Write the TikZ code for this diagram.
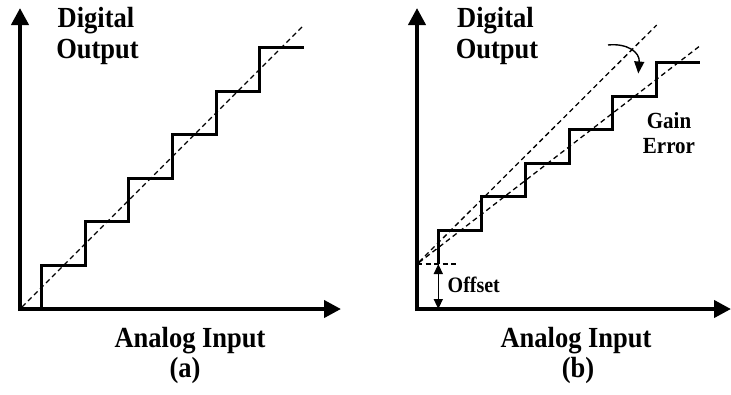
\documentclass[tikz,border=0pt]{standalone}
\usepackage{fontspec}
\usepackage{graphicx}
\setmainfont{Liberation Serif}
\usetikzlibrary{arrows.meta}
% bold serif labels, set slightly tall
\newcommand{\vstretch}[1]{\scalebox{1}[1.1]{#1}}
\begin{document}
\begin{tikzpicture}[x=1pt,y=-1pt,
  axis/.style={line width=4pt,line cap=butt,line join=miter,
    -{Triangle[length=17pt,width=17pt]}},
  stair/.style={line width=3pt,line join=miter},
  ideal/.style={line width=1.3pt,dash pattern=on 5pt off 3.5pt},
  lbl/.style={font=\fontsize{26.5}{31}\selectfont\bfseries,anchor=base,inner sep=0pt},
  small/.style={font=\fontsize{21}{25}\selectfont\bfseries,anchor=base,inner sep=0pt},
  dim/.style={line width=1.4pt,{Triangle[length=10pt,width=9pt]}-{Triangle[length=10pt,width=9pt]}}]
\useasboundingbox (0,0) rectangle (731,394);

% ---------- (a) ideal converter ----------
\coordinate (oa) at (20,309);
\coordinate (ya) at (20,8);
\coordinate (xa) at (341,309);
\draw[axis] ([yshift=-2pt]oa) -- (ya);
\draw[axis] ([xshift=-2pt]oa) -- (xa);

% ideal transfer line
\coordinate (da0) at (22,307);
\coordinate (da1) at (304,25);
\draw[ideal] (da0) -- (da1);

% quantisation staircase
\draw[stair] (41.7,309) -- (41.7,265.4) -- (85.3,265.4) -- (85.3,221.8)
  -- (128.9,221.8) -- (128.9,178.2) -- (172.5,178.2) -- (172.5,134.6)
  -- (216.1,134.6) -- (216.1,91) -- (259.7,91) -- (259.7,47.4) -- (304,47.4);

\node[lbl] (dga) at (96,27) {\vstretch{Digital}};
\node[lbl] (oua) at (97.5,58) {\vstretch{Output}};
\node[lbl] (aia) at (190,347) {\vstretch{Analog Input}};
\node[lbl] (capa) at (185,377) {\vstretch{(a)}};

% ---------- (b) converter with offset and gain error ----------
\coordinate (ob) at (417,309);
\coordinate (yb) at (417,8);
\coordinate (xb) at (731,309);
\draw[axis] ([yshift=-2pt]ob) -- (yb);
\draw[axis] ([xshift=-2pt]ob) -- (xb);

% offset level
\coordinate (off) at (417,264);
\coordinate (offend) at (458,264);
\draw[line width=1.1pt,dash pattern=on 5pt off 3.5pt] (off) -- (offend);

% ideal line shifted by the offset, and the actual line
\coordinate (db0) at (419,262);
\coordinate (db1) at (656.7,25);
\coordinate (dc0) at (419,262.5);
\coordinate (dc1) at (701.7,44.5);
\draw[ideal] (db0) -- (db1);
\draw[ideal] (dc0) -- (dc1);

% staircase with offset and reduced gain
\draw[stair] (438.3,264) -- (438.3,230.4) -- (481.9,230.4) -- (481.9,196.8)
  -- (525.5,196.8) -- (525.5,163.2) -- (569.1,163.2) -- (569.1,129.6)
  -- (612.7,129.6) -- (612.7,96) -- (656.3,96) -- (656.3,62.4) -- (700,62.4);

% offset dimension
\coordinate (ofa) at (438.3,264);
\coordinate (ofb) at (438.3,309);
\draw[dim] (ofa) -- (ofb);
\node[small,font=\fontsize{20}{24}\selectfont\bfseries,anchor=base west] (offl) at (447.5,292) {\vstretch{Offset}};

% gain error rotation arrow
\coordinate (ga0) at (608,45);
\coordinate (ga1) at (638.3,73.5);
\draw[line width=1.4pt,-{Triangle[length=12pt,width=10pt]}]
  (ga0) .. controls (627,43) and (640,52) .. (ga1);

\node[small] (gn) at (669,128) {\vstretch{Gain}};
\node[small] (er) at (669,153) {\vstretch{Error}};

\node[lbl] (dgb) at (495.5,27) {\vstretch{Digital}};
\node[lbl] (oub) at (497,58) {\vstretch{Output}};
\node[lbl] (aib) at (576,347) {\vstretch{Analog Input}};
\node[lbl] (capb) at (578,377) {\vstretch{(b)}};
\end{tikzpicture}
\end{document}
